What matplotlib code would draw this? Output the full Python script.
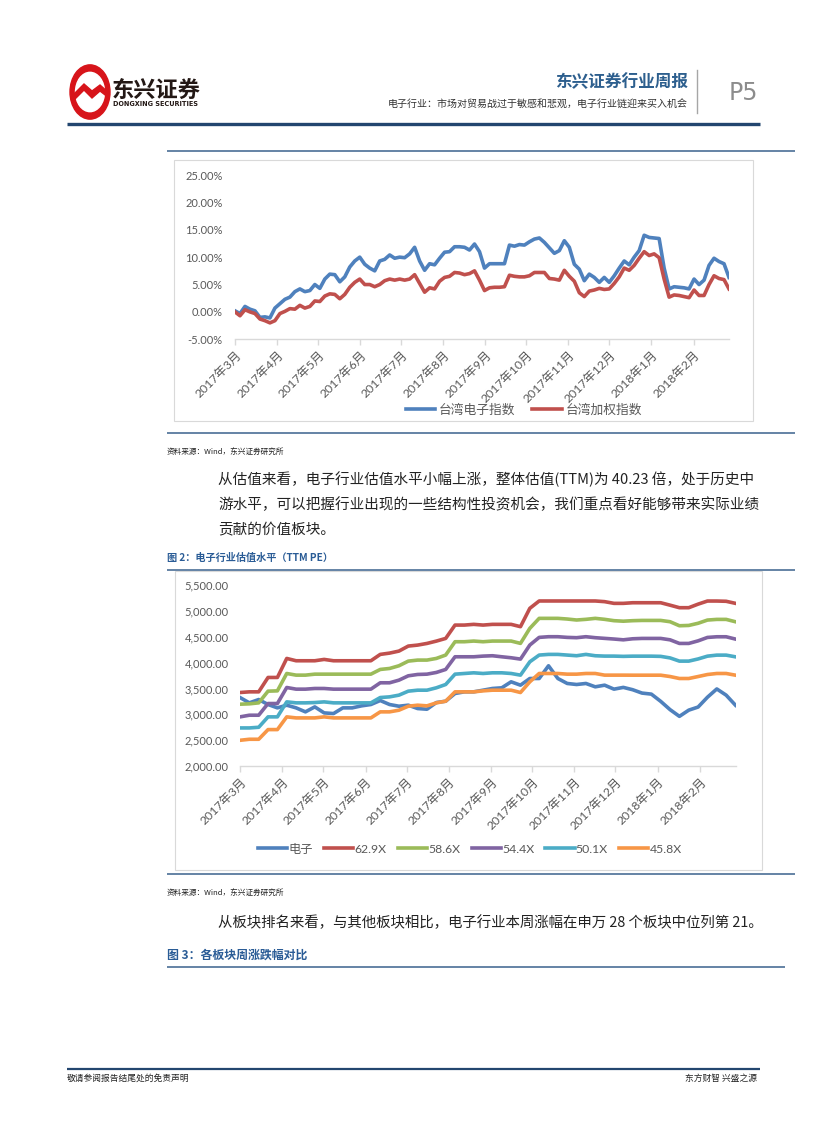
import pandas as pd
import matplotlib
matplotlib.use('Agg')
import matplotlib.pyplot as plt
import matplotlib.dates as mdates
from matplotlib.lines import Line2D
from matplotlib.patches import Rectangle, Circle, Polygon
from matplotlib.ticker import FuncFormatter, MultipleLocator

W, H = 827, 1122

# 图1：台湾电子指数 / 台湾加权指数 累计涨跌幅（%）
tw_dianzi = [0.2, -0.3, 1.0, 0.5, 0.2, -1.0, -0.9, -1.1, 0.7, 1.5,
             2.3, 2.7, 3.7, 4.2, 3.7, 3.9, 5.0, 4.3, 6.0, 6.9,
             6.8, 5.5, 6.4, 8.2, 9.3, 10.0, 8.7, 8.0, 7.5, 9.3,
             9.6, 10.4, 9.8, 10.0, 9.9, 10.6, 11.8, 9.3, 7.6, 8.8,
             8.6, 9.8, 10.9, 11.0, 11.9, 11.9, 11.8, 11.3, 12.4, 11.0,
             8.0, 8.8, 8.8, 8.8, 8.8, 12.2, 12.0, 12.3, 12.2, 12.8,
             13.3, 13.5, 12.7, 11.7, 10.7, 11.2, 13.0, 11.8, 8.7, 7.8,
             5.7, 6.9, 6.3, 5.4, 6.3, 5.4, 6.6, 8.0, 9.3, 8.6,
             10.0, 11.2, 14.0, 13.6, 13.5, 13.4, 8.0, 4.2, 4.6, 4.5,
             4.4, 4.2, 6.0, 5.0, 5.8, 8.5, 9.8, 9.2, 8.8, 6.3]
tw_jiaquan = [0.0, -0.7, 0.4, 0.0, -0.3, -1.3, -1.6, -2.0, -1.6, -0.3,
              0.1, 0.6, 0.5, 1.2, 0.7, 1.0, 2.0, 1.9, 2.9, 3.3,
              3.2, 2.4, 3.2, 4.5, 5.4, 6.0, 5.0, 5.0, 4.6, 5.0,
              5.7, 6.0, 5.8, 6.0, 5.8, 6.0, 6.8, 5.2, 3.6, 4.4,
              4.2, 5.6, 6.3, 6.5, 7.2, 7.1, 6.8, 7.0, 7.5, 5.8,
              3.9, 4.4, 4.5, 4.5, 4.6, 6.7, 6.5, 6.4, 6.4, 6.6,
              7.2, 7.2, 7.2, 6.1, 6.0, 5.8, 7.6, 6.5, 5.6, 3.5,
              2.8, 3.8, 4.0, 4.3, 4.1, 4.2, 5.2, 6.4, 8.0, 7.6,
              8.5, 9.8, 11.0, 10.3, 10.6, 9.9, 6.0, 2.7, 3.1, 3.0,
              2.8, 2.6, 4.0, 3.0, 3.0, 5.0, 6.6, 6.1, 5.9, 4.2]

# 图2：电子行业估值水平（TTM PE）
pe_dianzi = [3324, 3221, 3285, 3189, 3124, 3176, 3124, 3047, 3143, 3027,
             3014, 3124, 3124, 3163, 3189, 3266, 3189, 3156, 3176, 3111,
             3098, 3227, 3253, 3402, 3434, 3434, 3466, 3499, 3512, 3628,
             3563, 3692, 3692, 3938, 3692, 3596, 3576, 3596, 3531, 3563,
             3486, 3520, 3475, 3410, 3390, 3250, 3090, 2960, 3080, 3140,
             3330, 3490, 3370, 3175]
pe_629 = [3421, 3434, 3434, 3712, 3712, 4080, 4035, 4035, 4035, 4061,
          4035, 4035, 4035, 4035, 4035, 4158, 4183, 4222, 4319, 4338,
          4370, 4415, 4467, 4725, 4725, 4739, 4725, 4739, 4739, 4739,
          4694, 5049, 5191, 5191, 5191, 5191, 5191, 5191, 5191, 5178,
          5145, 5145, 5157, 5157, 5157, 5157, 5110, 5061, 5061, 5130,
          5190, 5190, 5185, 5145]
pe_586 = [3195, 3202, 3221, 3447, 3453, 3789, 3757, 3757, 3776, 3776,
          3776, 3776, 3776, 3776, 3776, 3867, 3886, 3938, 4028, 4048,
          4048, 4080, 4145, 4403, 4403, 4416, 4403, 4416, 4416, 4416,
          4371, 4662, 4855, 4855, 4855, 4842, 4823, 4836, 4855, 4836,
          4810, 4800, 4810, 4815, 4815, 4815, 4790, 4712, 4718, 4760,
          4822, 4835, 4835, 4789]
pe_544 = [2950, 2982, 2982, 3208, 3208, 3518, 3486, 3486, 3499, 3499,
          3486, 3486, 3486, 3486, 3486, 3609, 3609, 3660, 3744, 3770,
          3776, 3809, 3867, 4112, 4112, 4112, 4125, 4132, 4112, 4093,
          4067, 4339, 4487, 4500, 4500, 4487, 4481, 4500, 4481, 4468,
          4455, 4440, 4460, 4467, 4467, 4467, 4440, 4370, 4370, 4420,
          4486, 4499, 4499, 4454]
pe_501 = [2736, 2736, 2749, 2950, 2950, 3240, 3221, 3221, 3227, 3240,
          3221, 3221, 3221, 3221, 3221, 3324, 3337, 3370, 3447, 3466,
          3466, 3512, 3576, 3776, 3789, 3802, 3789, 3802, 3802, 3789,
          3757, 4015, 4145, 4158, 4158, 4145, 4132, 4158, 4132, 4125,
          4125, 4120, 4124, 4124, 4124, 4120, 4090, 4028, 4028, 4070,
          4124, 4144, 4144, 4111]
pe_458 = [2497, 2517, 2517, 2704, 2704, 2950, 2930, 2930, 2930, 2950,
          2930, 2930, 2930, 2930, 2930, 3047, 3047, 3079, 3156, 3176,
          3163, 3221, 3253, 3434, 3434, 3434, 3453, 3466, 3466, 3466,
          3421, 3628, 3789, 3789, 3789, 3776, 3776, 3789, 3789, 3757,
          3757, 3757, 3756, 3756, 3756, 3756, 3730, 3692, 3692, 3730,
          3769, 3789, 3789, 3756]
pe_names = ['电子', '62.9X', '58.6X', '54.4X', '50.1X', '45.8X']
pe_colors = ['#4F81BD', '#C0504D', '#9BBB59', '#8064A2', '#4BACC6', '#F79646']

dates1 = pd.date_range('2017-03-01', '2018-02-27', periods=len(tw_dianzi))
dates2 = pd.date_range('2017-03-01', '2018-02-27', periods=len(pe_dianzi))

CJK = ['Noto Sans CJK SC', 'DejaVu Sans']
NUM = ['Lato', 'Noto Sans CJK SC']
plt.rcParams['font.family'] = NUM
plt.rcParams['axes.unicode_minus'] = False

fig = plt.figure(figsize=(W / 100, H / 100), dpi=100)


def fx(x):
    return x / W


def fy(y):
    return 1 - y / H


def hline(y, x0, x1, color='#4A6E96', lw=1.0):
    fig.add_artist(Line2D([fx(x0), fx(x1)], [fy(y), fy(y)], transform=fig.transFigure,
                          color=color, lw=lw, solid_capstyle='butt'))


def box(x0, y0, x1, y1):
    fig.add_artist(Rectangle((fx(x0), fy(y1)), fx(x1) - fx(x0), fy(y0) - fy(y1),
                             transform=fig.transFigure, fill=False, ec='#D9D9D9', lw=0.8))


def txt(x, y, s, size, color='#222222', **kw):
    kw.setdefault('family', CJK)
    kw.setdefault('va', 'center')
    fig.text(fx(x), fy(y), s, fontsize=size, color=color, **kw)


def month_label(v, pos):
    d = mdates.num2date(v)
    return f'{d.year}年{d.month}月'


def style_axes(ax, ypad):
    for s in ['top', 'right', 'left']:
        ax.spines[s].set_visible(False)
    ax.spines['bottom'].set_color('#D9D9D9')
    ax.spines['bottom'].set_linewidth(1.0)
    ax.xaxis.set_major_locator(mdates.MonthLocator())
    ax.xaxis.set_major_formatter(FuncFormatter(month_label))
    ax.tick_params(axis='y', length=0, labelsize=8, labelcolor='#595959', pad=ypad)
    ax.tick_params(axis='x', length=4, width=1.0, color='#D9D9D9', labelsize=8.8,
                   labelcolor='#595959', pad=3)
    for lbl in ax.get_xticklabels():
        lbl.set_rotation(45)
        lbl.set_ha('right')
        lbl.set_va('top')
        lbl.set_rotation_mode('anchor')
    ax.set_facecolor('none')


# ---------- 页眉 ----------
fig.add_artist(Circle((fx(90), fy(92)), 20 / W, transform=fig.transFigure, color='#D7141A'))
fig.add_artist(Circle((fx(90), fy(92)), 14.5 / W, transform=fig.transFigure, color='white'))
fig.add_artist(Polygon([(fx(72), fy(96)), (fx(84), fy(84)), (fx(92), fy(91)), (fx(100), fy(85)),
                        (fx(109), fy(93)), (fx(109), fy(98)), (fx(100), fy(91)), (fx(92), fy(98)),
                        (fx(84), fy(90)), (fx(72), fy(102))],
                       closed=True, transform=fig.transFigure, color='#D7141A'))
txt(112, 90, '东兴证券', 16, color='#231815', weight='bold')
txt(113, 104, 'DONGXING SECURITIES', 4.7, color='#231815', family=['DejaVu Sans'], weight='bold')
txt(688, 82, '东兴证券行业周报', 12, color='#2D5F8E', weight='bold', ha='right')
txt(688, 104, '电子行业：市场对贸易战过于敏感和悲观，电子行业链迎来买入机会', 7.2,
    color='#333333', ha='right')
fig.add_artist(Line2D([fx(697), fx(697)], [fy(70), fy(113)], transform=fig.transFigure,
                      color='#A6A6A6', lw=1.0))
txt(743, 93, 'P5', 17, color='#8C8C8C', family=['DejaVu Sans'], ha='center')
hline(124, 67, 760, color='#23466F', lw=2.4)

# ---------- 图1 ----------
hline(151, 167, 795, lw=1.2)
box(174, 160, 753, 421)
ax1 = fig.add_axes([fx(235), fy(339.3), (729 - 235) / W, (339.3 - 175) / H])
ax1.plot(dates1, tw_dianzi, color='#4F81BD', lw=2.6, label='台湾电子指数')
ax1.plot(dates1, tw_jiaquan, color='#C0504D', lw=2.6, label='台湾加权指数')
ax1.set_xlim(dates1[0], dates1[-1])
ax1.set_ylim(-5, 25)
ax1.yaxis.set_major_locator(MultipleLocator(5))
ax1.yaxis.set_major_formatter(FuncFormatter(lambda v, p: f'{v:.2f}%'))
style_axes(ax1, 9)
ax1.legend(loc='center', bbox_to_anchor=(fx(524), fy(410)), bbox_transform=fig.transFigure,
           ncol=2, frameon=False, handlelength=2.3, handletextpad=0.3, columnspacing=1.3,
           prop={'family': CJK, 'size': 9.2}, labelcolor='#595959')
hline(433, 167, 795, lw=1.2)
txt(167, 452, '资料来源：Wind，东兴证券研究所', 5.5, color='#222222', style='italic')

# ---------- 正文 ----------
txt(218, 479, '从估值来看，电子行业估值水平小幅上涨，整体估值(TTM)为 40.23 倍，处于历史中', 10.5)
txt(218, 505, '游水平，可以把握行业出现的一些结构性投资机会，我们重点看好能够带来实际业绩', 10.5)
txt(218, 530, '贡献的价值板块。', 10.5)
txt(167, 558, '图 2：电子行业估值水平（TTM PE）', 7.3, color='#2A5C96', weight='bold')

# ---------- 图2 ----------
hline(570, 167, 795, lw=1.2)
box(174.5, 571, 762, 870)
ax2 = fig.add_axes([fx(240), fy(766), (735.5 - 240) / W, (766 - 585) / H])
pe_series = [pe_dianzi, pe_629, pe_586, pe_544, pe_501, pe_458]
for vals, name, c in zip(pe_series, pe_names, pe_colors):
    ax2.plot(dates2, vals, color=c, lw=2.6, label=name)
ax2.set_xlim(dates2[0], dates2[-1])
ax2.set_ylim(2000, 5500)
ax2.yaxis.set_major_locator(MultipleLocator(500))
ax2.yaxis.set_major_formatter(FuncFormatter(lambda v, p: f'{v:,.2f}'))
style_axes(ax2, 8)
ax2.legend(loc='center', bbox_to_anchor=(fx(470), fy(849)), bbox_transform=fig.transFigure,
           ncol=6, frameon=False, handlelength=2.4, handletextpad=0.1, columnspacing=0.9,
           prop={'family': NUM, 'size': 8.8}, labelcolor='#595959')
hline(874, 167, 795, lw=1.2)
txt(167, 893, '资料来源：Wind，东兴证券研究所', 5.5, color='#222222', style='italic')

txt(218, 923, '从板块排名来看，与其他板块相比，电子行业本周涨幅在申万 28 个板块中位列第 21。', 10.4)
txt(167, 955, '图 3：各板块周涨跌幅对比', 8.6, color='#2A5C96', weight='bold')
hline(967, 167, 785, lw=1.2)

# ---------- 页脚 ----------
hline(1069, 67, 760, color='#23466F', lw=1.6)
txt(67, 1078, '敬请参阅报告结尾处的免责声明', 6.3)
txt(757, 1078, '东方财智 兴盛之源', 6.3, ha='right')

fig.savefig('out.png', dpi=100)
